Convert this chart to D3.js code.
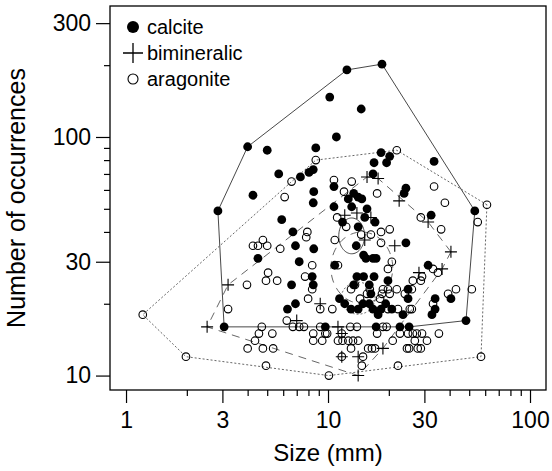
<!DOCTYPE html>
<html>
<head>
<meta charset="utf-8">
<script src="https://cdn.jsdelivr.net/npm/d3@7"></script>
<style>
  body { margin: 0; background: #fff; }
  svg { font-family: "Liberation Sans", Arial, sans-serif; }
</style>
</head>
<body>
<div id="chart"></div>
<script>
// size (mm), number of occurrences
var calcite = [
  [3.06,16],[2.85,49],[4.0,91],[5.0,88],[12.4,191],[18.5,202],[10.2,147],[14.6,131],
  [11.0,100],[8.7,90],[4.25,57],[5.7,70],[7.3,68],[8.45,73],[8.05,71],[18.3,86],
  [20.2,83],[16.9,78],[19.5,78],[16.7,70],[33.5,79],[8.5,59],[8.45,53],[10.7,62],
  [5.9,45],[6.7,40],[10.7,51],[12.6,55],[13.4,58],[14.1,56],[14.7,55],[13.1,51],
  [15.6,50],[15.2,46],[17.1,44],[24.3,61],[23.8,58],[32.4,47],[53.3,49],[11.8,44],
  [14.1,42],[6.9,35],[8.5,34],[4.5,31],[7.2,30],[10.8,29],[13.9,26],[8.35,26],
  [8.45,24],[6.6,24],[6.9,20],[6.3,19],[9.7,16],[17.3,16],[15.0,26],[16.9,26],
  [19.8,25],[31.3,29],[11.4,21],[12.1,20],[13.0,19],[14.1,19],[14.9,20],[16.0,20],
  [16.7,19],[17.7,18],[19.3,20],[20.7,19],[23.5,18],[24.9,23],[33.9,21],[33.9,19],
  [32.7,18],[40.6,21],[22.7,16],[25.2,16],[48.2,17],[24.3,36],[13.8,35],[15.0,32],
  [15.4,31],[16.7,31],[17.3,31],[13.4,24],[16.0,24],[16.3,22],[18.3,19],[24.9,21]
]

var bimineralic = [
  [2.52,16],[3.2,24],[15.6,68],[17.7,67],[22.5,54],[31.3,44],[40.6,33],[36.7,28],
  [28.2,27],[21.4,35],[15.2,37],[7.0,17],[9.15,20],[11.2,16],[11.7,15],[11.7,12],
  [14.1,12],[18.7,13],[14.1,10],[12.1,47],[13.9,48],[16.3,46]
]

var aragonite = [
  [1.21,18],[1.98,12],[4.93,11],[10.1,10],[22.2,11],[57.2,12],[61.2,52],[21.9,88],
  [8.7,80],[6.6,65],[6.1,56],[10.7,66],[13.1,65],[12.0,59],[17.5,58],[33.5,62],
  [37.9,53],[55.1,44],[28.8,46],[36.3,41],[11.1,46],[12.3,42],[7.9,40],[7.8,38],
  [14.6,39],[16.3,39],[18.3,40],[20.2,41],[10.8,37],[4.76,37],[4.25,35],[4.5,35],
  [5.0,35],[5.8,34],[18.3,36],[20.7,30],[19.8,28],[29.2,26],[33.1,28],[35.0,27],
  [26.3,25],[28.8,25],[18.7,23],[19.8,23],[21.9,23],[20.2,22],[24.0,22],[26.0,23],
  [33.1,20],[39.3,22],[43.0,23],[51.5,23],[19.8,19],[25.4,19],[19.5,16],[22.7,15],
  [24.9,15],[26.3,15],[29.2,15],[35.4,15],[20.9,14],[26.9,14],[30.9,14],[24.6,13],
  [25.2,13],[27.8,13],[28.8,13],[8.35,29],[11.2,29],[7.7,26],[8.35,23],[5.05,27],
  [4.93,25],[5.6,25],[3.97,24],[7.97,21],[9.15,19],[10.5,19],[3.2,19],[6.25,17],
  [6.7,16],[7.2,16],[7.6,16],[4.7,16],[4.55,15],[5.3,15],[4.35,14],[4.0,13],
  [4.76,13],[5.35,13],[8.45,15],[8.45,14],[9.36,14],[9.7,15],[11.2,14],[11.8,14],
  [12.6,14],[13.3,14],[14.1,14],[12.9,16],[13.9,16],[13.0,13],[11.7,15],[11.7,12],
  [14.9,12],[14.7,11],[15.8,13],[16.5,13],[17.1,13],[17.5,15],[13.0,23],[13.6,24],
  [16.1,23],[18.5,22],[14.4,21],[15.6,22],[18.1,21],[22.2,19],[26.0,19],[18.7,16],
  [9.15,16],[9.9,15],[27.5,15]
]

// inner contours: centre (mm, count) and radii in log10 units
var innerSolid  = { c: [13.1, 38.5], rx: 0.064, ry: 0.075 }
var innerDashed = { c: [14.7, 28.3], rx: 0.153, ry: 0.15 }
var innerDotted = { c: [14.1, 21.1], rx: 0.084, ry: 0.067 }

var xMajor = [1, 3, 10, 30, 100],
    xMinor = [2, 4, 5, 6, 7, 8, 9, 20, 40, 50, 60, 70, 80, 90],
    yMajor = [10, 30, 100, 300],
    yMinor = [20, 40, 50, 60, 70, 80, 90, 200]

var legendLabels = ['calcite', 'bimineralic', 'aragonite']

var W = 552, H = 471
var m = { l: 110, r: 6, t: 6, b: 81 }

var svg = d3.select('#chart')
    .append('svg')
    .attr('width', W)
    .attr('height', H)

var x = d3.scaleLog()
    .domain([0.833, 120])
    .range([m.l, W - m.r])

var y = d3.scaleLog()
    .domain([8.7, 354])
    .range([H - m.b, m.t])

// axes
function styleAxis(g) {
    g.select('.domain').remove()
    g.selectAll('text')
        .attr('font-size', 23)
        .attr('font-family', 'Liberation Sans, Arial, sans-serif')
        .attr('fill', '#000')
    g.selectAll('line').attr('stroke', '#000').attr('stroke-width', 1.2)
}

svg.append('g')
    .attr('transform', `translate(0, ${H - m.b})`)
    .call(d3.axisBottom(x).tickValues(xMajor).tickFormat(d3.format('d')).tickSize(13).tickPadding(9))
    .call(styleAxis)

svg.append('g')
    .attr('transform', `translate(0, ${H - m.b})`)
    .call(d3.axisBottom(x).tickValues(xMinor).tickFormat('').tickSize(6))
    .call(styleAxis)

svg.append('g')
    .attr('transform', `translate(${m.l}, 0)`)
    .call(d3.axisLeft(y).tickValues(yMajor).tickFormat(d3.format('d')).tickSize(14).tickPadding(5))
    .call(styleAxis)

svg.append('g')
    .attr('transform', `translate(${m.l}, 0)`)
    .call(d3.axisLeft(y).tickValues(yMinor).tickFormat('').tickSize(6))
    .call(styleAxis)

// box
svg.append('rect')
    .attr('x', m.l)
    .attr('y', m.t)
    .attr('width', W - m.l - m.r)
    .attr('height', H - m.t - m.b)
    .attr('fill', 'none')
    .attr('stroke', '#000')
    .attr('stroke-width', 1.3)

// hulls
var ring = d3.line().curve(d3.curveLinearClosed)
function hull(data) {
    return d3.polygonHull(data.map(d => [x(d[0]), y(d[1])]))
}
function ellipse(e) {
    var lx = Math.log10(e.c[0]), ly = Math.log10(e.c[1])
    return d3.range(0, 2 * Math.PI, Math.PI / 36).map(t =>
        [x(Math.pow(10, lx + e.rx * Math.cos(t))), y(Math.pow(10, ly + e.ry * Math.sin(t)))])
}

var styles = {
    solid:  { stroke: '#333', dash: null, w: 0.9 },
    dashed: { stroke: '#555', dash: '8,6', w: 0.9 },
    dotted: { stroke: '#555', dash: '2,2', w: 0.9 }
}
function outline(pts, s) {
    svg.append('path')
        .attr('d', ring(pts))
        .attr('fill', 'none')
        .attr('stroke', s.stroke)
        .attr('stroke-width', s.w)
        .attr('stroke-dasharray', s.dash)
}

outline(hull(calcite), styles.solid)
outline(hull(aragonite), styles.dotted)
outline(hull(bimineralic), styles.dashed)
outline(ellipse(innerSolid), styles.solid)
outline(ellipse(innerDashed), styles.dashed)
outline(ellipse(innerDotted), styles.dotted)

// points
svg.append('g').selectAll('circle')
    .data(aragonite)
    .enter()
    .append('circle')
    .attr('cx', d => x(d[0]))
    .attr('cy', d => y(d[1]))
    .attr('r', 3.8)
    .attr('fill', 'none')
    .attr('stroke', '#000')
    .attr('stroke-width', 1.1)

svg.append('g').selectAll('circle')
    .data(calcite)
    .enter()
    .append('circle')
    .attr('cx', d => x(d[0]))
    .attr('cy', d => y(d[1]))
    .attr('r', 4.4)
    .attr('fill', '#000')

var plus = 'M-6,0H6M0,-6V6'
svg.append('g').selectAll('path')
    .data(bimineralic)
    .enter()
    .append('path')
    .attr('transform', d => `translate(${x(d[0])}, ${y(d[1])})`)
    .attr('d', plus)
    .attr('stroke', '#000')
    .attr('stroke-width', 1.1)

// legend
var legend = svg.append('g').attr('transform', 'translate(133, 27)')
legend.append('circle').attr('cx', 0).attr('cy', 0).attr('r', 6).attr('fill', '#000')
legend.append('path').attr('d', 'M-10,26H10M0,16V36').attr('stroke', '#000').attr('stroke-width', 1.3)
legend.append('circle').attr('cx', 0).attr('cy', 52).attr('r', 5).attr('fill', 'none').attr('stroke', '#000').attr('stroke-width', 1.1)
legend.selectAll('text')
    .data(legendLabels)
    .enter()
    .append('text')
    .text(d => d)
    .attr('x', 14)
    .attr('y', (d, i) => i * 26 + 7)
    .attr('font-size', 20)

// titles
svg.append('text')
    .text('Size (mm)')
    .attr('text-anchor', 'middle')
    .attr('x', (m.l + W - m.r) / 2)
    .attr('y', 461)
    .attr('font-size', 24)

svg.append('text')
    .text('Number of occurrences')
    .attr('text-anchor', 'middle')
    .attr('transform', `translate(25, ${(m.t + H - m.b) / 2}) rotate(-90)`)
    .attr('font-size', 25)
</script>
</body>
</html>
